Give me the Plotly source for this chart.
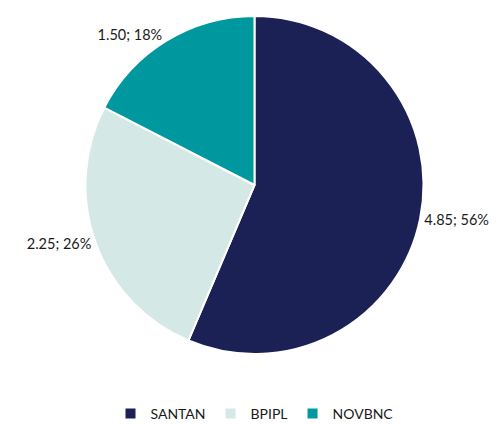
import plotly.graph_objects as go

categories = ["SANTAN", "BPIPL", "NOVBNC"]
values = [4.85, 2.25, 1.50]
percents = [56, 26, 18]
colors = ["#1B2155", "#D4E9E5", "#00989F"]

labels_text = [f"{v:.2f}; {p}%" for v, p in zip(values, percents)]

fig = go.Figure(go.Pie(
    labels=categories,
    values=values,
    text=labels_text,
    texttemplate="%{text}",
    textposition="outside",
    sort=False,
    direction="clockwise",
    rotation=0,
    marker=dict(colors=colors, line=dict(color="white", width=2)),
    textfont=dict(family="Lato", size=14.5, color="#1a1a1a"),
    hoverinfo="label+value+percent",
))

fig.update_layout(
    width=500, height=424,
    margin=dict(l=2, r=0, t=8, b=78),
    paper_bgcolor="white",
    plot_bgcolor="white",
    font=dict(family="Lato", size=14, color="#1a1a1a"),
    legend=dict(orientation="h", x=0.5, xanchor="center", y=-0.13, yanchor="top",
                font=dict(family="Lato", size=14, color="#1a1a1a"),
                itemwidth=30, traceorder="normal"),
)

fig.write_html("out.html")
